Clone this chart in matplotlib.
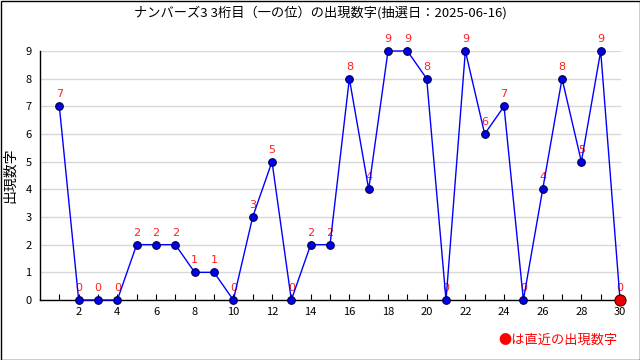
import matplotlib
matplotlib.use('Agg')
import matplotlib.pyplot as plt
from matplotlib.patches import Rectangle

plt.rcParams['font.family'] = ['Noto Sans CJK JP', 'DejaVu Sans']

# 抽選回 (1 = 古い, 30 = 直近) と出現数字
draws = list(range(1, 31))
digits = [7, 0, 0, 0, 2, 2, 2, 1, 1, 0, 3, 5, 0, 2, 2,
          8, 4, 9, 9, 8, 0, 9, 6, 7, 0, 4, 8, 5, 9, 0]
y_ticks = list(range(0, 10))
x_labels = list(range(2, 31, 2))

title = 'ナンバーズ3 3桁目（一の位）の出現数字(抽選日：2025-06-16)'
ylabel = '出現数字'
note = '●は直近の出現数字'

fig = plt.figure(figsize=(6.4, 3.6), dpi=100)
ax = fig.add_axes([40 / 640, 1 - 300 / 360, 581 / 640, 249 / 360])

ax.plot(draws, digits, color='#0000ff', lw=1, zorder=3, clip_on=False)
ax.plot(draws[:-1], digits[:-1], 'o', ms=5.5, mfc='#0000ee', mec='#000044',
        mew=0.8, zorder=4, clip_on=False)
ax.plot(draws[-1:], digits[-1:], 'o', ms=8, mfc='#ee0000', mec='#440000',
        mew=0.8, zorder=5, clip_on=False)

for x, y in zip(draws, digits):
    ax.annotate(str(y), (x, y), xytext=(0, 5), textcoords='offset points',
                ha='center', va='bottom', color='#ff2020', fontsize=8,
                family='DejaVu Sans', zorder=2)

ax.set_xlim(0, 30.05)
ax.set_ylim(0, 9)
ax.set_yticks(y_ticks)
ax.set_xticks(draws, minor=True)
ax.set_xticks(x_labels)
ax.set_xticklabels([str(v) for v in x_labels])
ax.tick_params(axis='x', which='both', direction='in', length=4, width=0.8,
               labelsize=8, pad=5)
ax.tick_params(axis='y', length=0, labelsize=8, pad=6)
ax.grid(axis='y', color='#d8d8d8', lw=1)
ax.set_axisbelow(True)
for side in ('top', 'right'):
    ax.spines[side].set_visible(False)
for side in ('left', 'bottom'):
    ax.spines[side].set_linewidth(1)

fig.text(0.5, 1 - 13 / 360, title, ha='center', va='center', fontsize=9.5)
fig.text(10 / 640, 1 - 175 / 360, ylabel, ha='center', va='center',
         rotation=90, fontsize=10)
fig.text(618 / 640, 1 - 340 / 360, note, ha='right', va='center',
         color='#ff0000', fontsize=9.5)

fig.patches.append(Rectangle((0.5 / 640, 0.5 / 360), 639 / 640, 359 / 360,
                             transform=fig.transFigure, fill=False,
                             edgecolor='black', lw=1))

fig.savefig('out.png', dpi=100)
